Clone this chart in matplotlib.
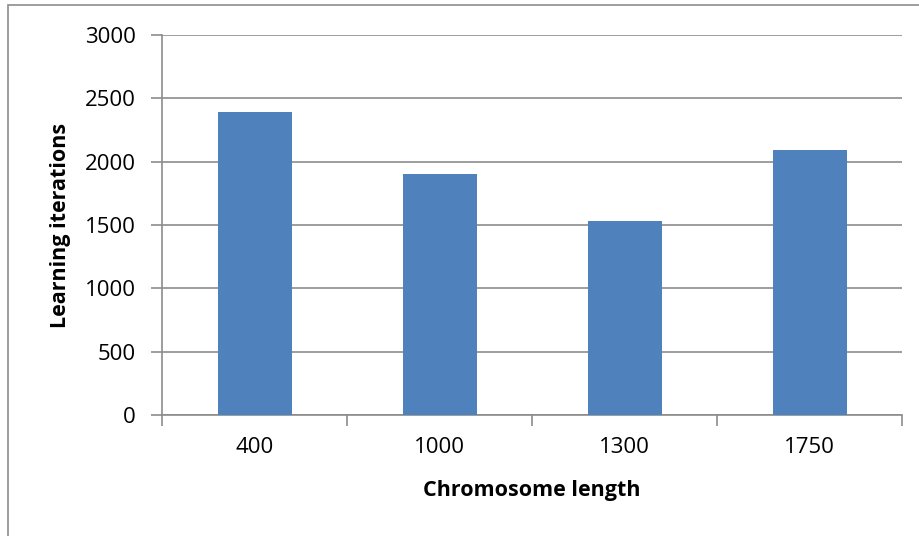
import matplotlib.pyplot as plt
from matplotlib.patches import Rectangle

categories = ['400', '1000', '1300', '1750']
iterations = [2390, 1900, 1530, 2090]
yticks = [0, 500, 1000, 1500, 2000, 2500, 3000]

plt.rcParams['font.family'] = ['Open Sans', 'DejaVu Sans']

fig = plt.figure(figsize=(9.19, 5.36), dpi=100)
ax = fig.add_axes([162 / 919, 1 - 415 / 536, 740 / 919, 380 / 536])

# outer chart frame (Excel style)
fig.patches.append(Rectangle((8 / 919, -0.1), 1.2, 1 - 5 / 536 + 0.1,
                             transform=fig.transFigure, fill=False,
                             ec='#8c8c8c', lw=1.2))

x = range(len(categories))
ax.bar(x, iterations, width=0.4, color='#4f81bd', zorder=3)

ax.set_xlim(-0.5, len(categories) - 0.5)
ax.set_ylim(0, 3000)
ax.set_yticks(yticks)
ax.set_yticklabels([str(t) for t in yticks], fontsize=16)
ax.yaxis.grid(True, color='#8c8c8c', lw=1.2, zorder=0)
ax.tick_params(axis='y', length=8, color='#8c8c8c', width=1.2, pad=11)

ax.set_xticks(list(x))
ax.set_xticklabels(categories, fontsize=16)
ax.tick_params(axis='x', length=0, pad=16)
ax.set_xticks([i - 0.5 for i in range(len(categories) + 1)], minor=True)
ax.tick_params(axis='x', which='minor', length=8, color='#8c8c8c', width=1.2)

for side in ['top', 'right']:
    ax.spines[side].set_visible(False)
for side in ['left', 'bottom']:
    ax.spines[side].set_color('#8c8c8c')
    ax.spines[side].set_linewidth(1.2)

ax.set_xlabel('Chromosome length', fontsize=15.5, fontweight='bold', labelpad=16)
ax.set_ylabel('Learning iterations', fontsize=15.5, fontweight='bold', labelpad=10)

fig.savefig('out.png', dpi=100)
